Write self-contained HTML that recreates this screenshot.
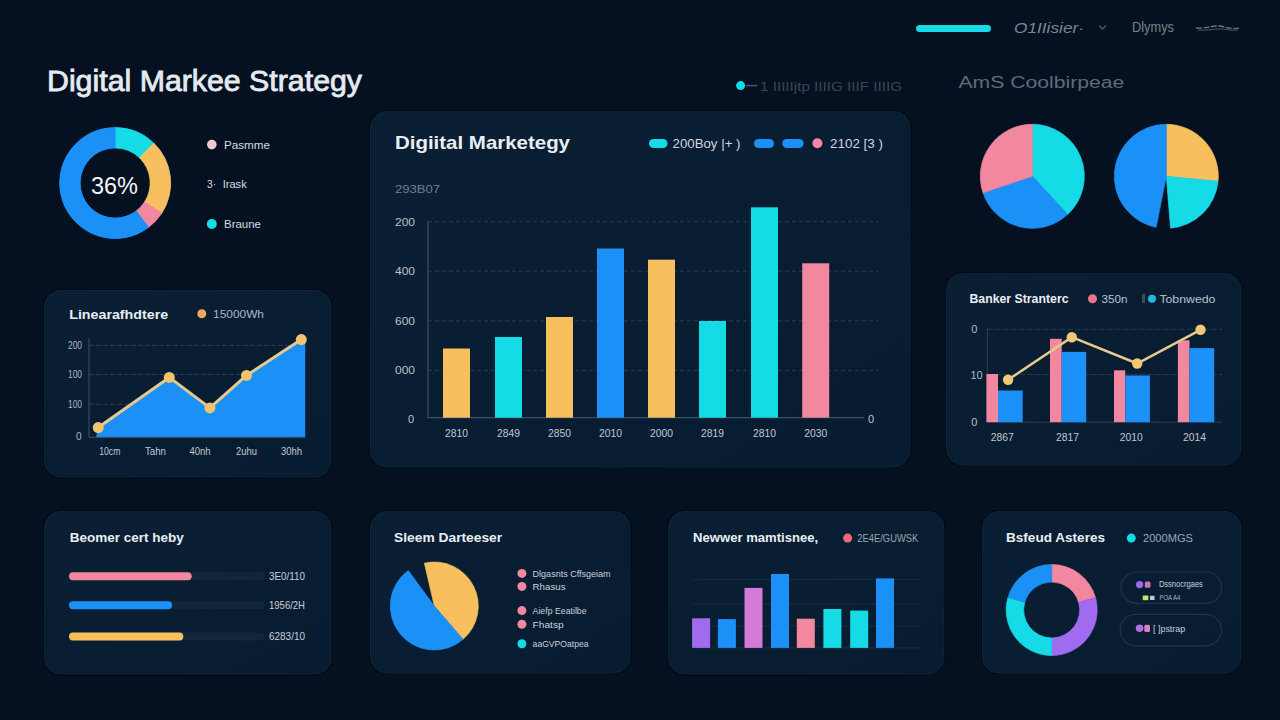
<!DOCTYPE html><html><head><meta charset="utf-8"><style>
html,body{margin:0;padding:0;background:#051120;width:1280px;height:720px;overflow:hidden}
svg{display:block;font-family:"Liberation Sans",sans-serif}
</style></head><body>
<svg width="1280" height="720" viewBox="0 0 1280 720">
<defs>
<linearGradient id="pg" x1="0" y1="0" x2="1" y2="1">
<stop offset="0" stop-color="#0a1f33"/><stop offset="1" stop-color="#081c31"/>
</linearGradient>
</defs>
<rect width="1280" height="720" fill="#051120"/>

<rect x="916" y="25" width="75" height="7" rx="3.5" fill="#14dbe5"/>
<text x="1014" y="32.5" font-size="15" font-weight="400" fill="#7a8696" text-anchor="start" textLength="70" lengthAdjust="spacingAndGlyphs" font-style="italic">O1IIisier·</text>
<path d="M1099,25.5 L1102.5,29 L1106,25.5" stroke="#596575" stroke-width="1.1" fill="none"/>
<text x="1132" y="32.2" font-size="14" font-weight="400" fill="#77838f" text-anchor="start" textLength="42" lengthAdjust="spacingAndGlyphs" >Dlymys</text>
<path d="M1196,28 C1205,29 1210,26 1218,26 C1226,26 1228,30 1240,28" stroke="#6a7686" stroke-width="1.3" fill="none" stroke-dasharray="6 1.5"/>
<path d="M1198,30 C1206,31 1212,29 1220,29 C1228,29 1230,31 1238,30" stroke="#4a5666" stroke-width="1" fill="none"/>
<text x="47" y="90.6" font-size="29" font-weight="400" fill="#e4eaf0" text-anchor="start" textLength="315" lengthAdjust="spacingAndGlyphs" stroke="#e4eaf0" stroke-width="0.8">Digital Markee Strategy</text>
<circle cx="115.2" cy="183" r="45.25" fill="none" stroke="#1b90f6" stroke-width="20.5"/>
<path d="M115.20,127.50 A55.5,55.5 0 0 1 153.75,143.08 L139.51,157.82 A35,35 0 0 0 115.20,148.00 Z" fill="#14dbe5" stroke="#14dbe5" stroke-width="0.7" stroke-linejoin="round"/>
<path d="M153.75,143.08 A55.5,55.5 0 0 1 161.75,213.23 L144.55,202.06 A35,35 0 0 0 139.51,157.82 Z" fill="#f8bf5f" stroke="#f8bf5f" stroke-width="0.7" stroke-linejoin="round"/>
<path d="M161.75,213.23 A55.5,55.5 0 0 1 148.60,227.32 L136.26,210.95 A35,35 0 0 0 144.55,202.06 Z" fill="#f2889f" stroke="#f2889f" stroke-width="0.7" stroke-linejoin="round"/>
<path d="M148.60,227.32 A55.5,55.5 0 1 1 115.20,127.50 L115.20,148.00 A35,35 0 1 0 136.26,210.95 Z" fill="#1b90f6" stroke="#1b90f6" stroke-width="0.7" stroke-linejoin="round"/>
<text x="91" y="193.5" font-size="24" font-weight="400" fill="#f2f5f8" text-anchor="start" textLength="47" lengthAdjust="spacingAndGlyphs" >36%</text>
<circle cx="211.8" cy="144.6" r="4.8" fill="#f0c8d0"/>
<text x="224" y="148.7" font-size="11" font-weight="400" fill="#d5dce4" text-anchor="start" textLength="46" lengthAdjust="spacingAndGlyphs" >Pasmme</text>
<text x="207" y="187.6" font-size="11" font-weight="400" fill="#d5dce4" text-anchor="start" textLength="9" lengthAdjust="spacingAndGlyphs" >3·</text>
<text x="222.7" y="187.6" font-size="11" font-weight="400" fill="#d5dce4" text-anchor="start" textLength="24" lengthAdjust="spacingAndGlyphs" >Irask</text>
<circle cx="211.8" cy="224" r="5" fill="#14dbe5"/>
<text x="224" y="227.7" font-size="11" font-weight="400" fill="#d5dce4" text-anchor="start" textLength="37" lengthAdjust="spacingAndGlyphs" >Braune</text>
<circle cx="740.6" cy="85.6" r="4.5" fill="#14dbe5"/>
<line x1="746" y1="85.6" x2="757" y2="85.6" stroke="#4a5566" stroke-width="1.5"/>
<text x="760" y="91" font-size="13" font-weight="400" fill="#3a4656" text-anchor="start" textLength="142" lengthAdjust="spacingAndGlyphs" >1 IIIIIjtp IIIIG IIIF IIIIG</text>
<text x="958.4" y="87.7" font-size="16" font-weight="400" fill="#5f6b7b" text-anchor="start" textLength="166" lengthAdjust="spacingAndGlyphs" >AmS Coolbirpeae</text>
<path d="M1032.30,176.30 L1032.30,124.30 A52,52 0 0 1 1067.56,214.52 Z" fill="#14dbe5" stroke="#14dbe5" stroke-width="0.7" stroke-linejoin="round"/>
<path d="M1032.30,176.30 L1067.56,214.52 A52,52 0 0 1 982.99,192.80 Z" fill="#1b90f6" stroke="#1b90f6" stroke-width="0.7" stroke-linejoin="round"/>
<path d="M1032.30,176.30 L982.99,192.80 A52,52 0 0 1 1032.30,124.30 Z" fill="#f2889f" stroke="#f2889f" stroke-width="0.7" stroke-linejoin="round"/>
<path d="M1166.30,176.30 L1166.30,124.30 A52,52 0 0 1 1218.06,181.28 Z" fill="#f8bf5f" stroke="#f8bf5f" stroke-width="0.7" stroke-linejoin="round"/>
<path d="M1166.30,176.30 L1218.06,181.28 A52,52 0 0 1 1170.56,228.13 Z" fill="#14dbe5" stroke="#14dbe5" stroke-width="0.7" stroke-linejoin="round"/>
<path d="M1166.30,176.30 L1156.11,227.29 A52,52 0 0 1 1166.30,124.30 Z" fill="#1b90f6" stroke="#1b90f6" stroke-width="0.7" stroke-linejoin="round"/>
<rect x="43.0" y="289.0" width="289.5" height="189.5" rx="17.5" fill="#030a14"/>
<rect x="44.5" y="290.5" width="286.5" height="186.5" rx="16" fill="url(#pg)" stroke="#0d2436" stroke-width="1"/>
<rect x="369.0" y="110.0" width="542.5" height="358.5" rx="17.5" fill="#030a14"/>
<rect x="370.5" y="111.5" width="539.5" height="355.5" rx="16" fill="url(#pg)" stroke="#0d2436" stroke-width="1"/>
<rect x="945.0" y="272.0" width="297.5" height="194.5" rx="17.5" fill="#030a14"/>
<rect x="946.5" y="273.5" width="294.5" height="191.5" rx="16" fill="url(#pg)" stroke="#0d2436" stroke-width="1"/>
<rect x="43.0" y="510.0" width="289.5" height="165.5" rx="17.5" fill="#030a14"/>
<rect x="44.5" y="511.5" width="286.5" height="162.5" rx="16" fill="url(#pg)" stroke="#0d2436" stroke-width="1"/>
<rect x="369.0" y="510.0" width="262.5" height="164.5" rx="17.5" fill="#030a14"/>
<rect x="370.5" y="511.5" width="259.5" height="161.5" rx="16" fill="url(#pg)" stroke="#0d2436" stroke-width="1"/>
<rect x="667.0" y="510.0" width="278.5" height="165.5" rx="17.5" fill="#030a14"/>
<rect x="668.5" y="511.5" width="275.5" height="162.5" rx="16" fill="url(#pg)" stroke="#0d2436" stroke-width="1"/>
<rect x="981.0" y="510.0" width="261.5" height="164.5" rx="17.5" fill="#030a14"/>
<rect x="982.5" y="511.5" width="258.5" height="161.5" rx="16" fill="url(#pg)" stroke="#0d2436" stroke-width="1"/>
<text x="395" y="148.7" font-size="19" font-weight="700" fill="#e9eef3" text-anchor="start" textLength="175" lengthAdjust="spacingAndGlyphs" >Digiital Marketegy</text>
<rect x="649" y="139" width="18.5" height="9" rx="4.5" fill="#14dbe5"/>
<text x="672.5" y="147.8" font-size="12" font-weight="400" fill="#cfd6de" text-anchor="start" textLength="68" lengthAdjust="spacingAndGlyphs" >200Boy |+ )</text>
<rect x="754" y="139" width="20" height="9" rx="4.5" fill="#1b90f6"/>
<rect x="782.3" y="139" width="21.3" height="9" rx="4.5" fill="#1b90f6"/>
<circle cx="817.4" cy="143.3" r="5" fill="#f2889f"/>
<text x="830" y="147.8" font-size="12" font-weight="400" fill="#cfd6de" text-anchor="start" textLength="53" lengthAdjust="spacingAndGlyphs" >2102 [3 )</text>
<text x="395" y="193" font-size="11" font-weight="400" fill="#71808f" text-anchor="start" textLength="45" lengthAdjust="spacingAndGlyphs" >293B07</text>
<line x1="428" y1="221.7" x2="878" y2="221.7" stroke="#283c50" stroke-width="1" stroke-dasharray="4 3"/>
<text x="395" y="225.7" font-size="11" font-weight="400" fill="#b8c2cc" text-anchor="start" textLength="20" lengthAdjust="spacingAndGlyphs" >200</text>
<line x1="428" y1="271.2" x2="878" y2="271.2" stroke="#283c50" stroke-width="1" stroke-dasharray="4 3"/>
<text x="395" y="275.2" font-size="11" font-weight="400" fill="#b8c2cc" text-anchor="start" textLength="20" lengthAdjust="spacingAndGlyphs" >400</text>
<line x1="428" y1="320.8" x2="878" y2="320.8" stroke="#283c50" stroke-width="1" stroke-dasharray="4 3"/>
<text x="395" y="324.8" font-size="11" font-weight="400" fill="#b8c2cc" text-anchor="start" textLength="20" lengthAdjust="spacingAndGlyphs" >600</text>
<line x1="428" y1="370.4" x2="878" y2="370.4" stroke="#283c50" stroke-width="1" stroke-dasharray="4 3"/>
<text x="395" y="374.4" font-size="11" font-weight="400" fill="#b8c2cc" text-anchor="start" textLength="20" lengthAdjust="spacingAndGlyphs" >000</text>
<line x1="428" y1="221" x2="428" y2="418" stroke="#3e5064" stroke-width="1.2"/>
<line x1="428" y1="417.7" x2="864" y2="417.7" stroke="#3e5064" stroke-width="1.2"/>
<text x="408" y="423" font-size="11" font-weight="400" fill="#b8c2cc" text-anchor="start" >0</text>
<text x="868" y="423" font-size="11" font-weight="400" fill="#b8c2cc" text-anchor="start" >0</text>
<rect x="443" y="348.5" width="27" height="69.19999999999999" fill="#f8bf5f"/>
<text x="456.5" y="436.5" font-size="10.5" font-weight="400" fill="#c0c9d2" text-anchor="middle" textLength="23" lengthAdjust="spacingAndGlyphs" >2810</text>
<rect x="495" y="337" width="27" height="80.69999999999999" fill="#14dbe5"/>
<text x="508.5" y="436.5" font-size="10.5" font-weight="400" fill="#c0c9d2" text-anchor="middle" textLength="23" lengthAdjust="spacingAndGlyphs" >2849</text>
<rect x="546" y="317" width="27" height="100.69999999999999" fill="#f8bf5f"/>
<text x="559.5" y="436.5" font-size="10.5" font-weight="400" fill="#c0c9d2" text-anchor="middle" textLength="23" lengthAdjust="spacingAndGlyphs" >2850</text>
<rect x="597" y="248.5" width="27" height="169.2" fill="#1b90f6"/>
<text x="610.5" y="436.5" font-size="10.5" font-weight="400" fill="#c0c9d2" text-anchor="middle" textLength="23" lengthAdjust="spacingAndGlyphs" >2010</text>
<rect x="648" y="259.7" width="27" height="158.0" fill="#f8bf5f"/>
<text x="661.5" y="436.5" font-size="10.5" font-weight="400" fill="#c0c9d2" text-anchor="middle" textLength="23" lengthAdjust="spacingAndGlyphs" >2000</text>
<rect x="699" y="321" width="27" height="96.69999999999999" fill="#14dbe5"/>
<text x="712.5" y="436.5" font-size="10.5" font-weight="400" fill="#c0c9d2" text-anchor="middle" textLength="23" lengthAdjust="spacingAndGlyphs" >2819</text>
<rect x="751" y="207.3" width="27" height="210.39999999999998" fill="#14dbe5"/>
<text x="764.5" y="436.5" font-size="10.5" font-weight="400" fill="#c0c9d2" text-anchor="middle" textLength="23" lengthAdjust="spacingAndGlyphs" >2810</text>
<rect x="802.2" y="263.3" width="27" height="154.39999999999998" fill="#f2889f"/>
<text x="815.7" y="436.5" font-size="10.5" font-weight="400" fill="#c0c9d2" text-anchor="middle" textLength="23" lengthAdjust="spacingAndGlyphs" >2030</text>
<text x="69.2" y="318.8" font-size="12.5" font-weight="700" fill="#e9eef3" text-anchor="start" textLength="99" lengthAdjust="spacingAndGlyphs" >Linearafhdtere</text>
<circle cx="201.8" cy="313.7" r="4.5" fill="#f0a860"/>
<text x="213" y="317.6" font-size="11" font-weight="400" fill="#a8b8c8" text-anchor="start" textLength="51" lengthAdjust="spacingAndGlyphs" >15000Wh</text>
<line x1="89" y1="345.3" x2="305" y2="345.3" stroke="#2c3f52" stroke-width="1" stroke-dasharray="5 2"/>
<text x="68" y="348.8" font-size="10" font-weight="400" fill="#b0bac4" text-anchor="start" textLength="14" lengthAdjust="spacingAndGlyphs" >200</text>
<line x1="89" y1="374.4" x2="305" y2="374.4" stroke="#2c3f52" stroke-width="1" stroke-dasharray="5 2"/>
<text x="68" y="377.9" font-size="10" font-weight="400" fill="#b0bac4" text-anchor="start" textLength="14" lengthAdjust="spacingAndGlyphs" >100</text>
<line x1="89" y1="404.2" x2="305" y2="404.2" stroke="#2c3f52" stroke-width="1" stroke-dasharray="5 2"/>
<text x="68" y="407.7" font-size="10" font-weight="400" fill="#b0bac4" text-anchor="start" textLength="14" lengthAdjust="spacingAndGlyphs" >100</text>
<text x="76" y="439.5" font-size="10" font-weight="400" fill="#b0bac4" text-anchor="start" >0</text>
<line x1="89" y1="338" x2="89" y2="437.3" stroke="#3e5063" stroke-width="1"/>
<polygon points="96,437.3 98.2,427.6 169.3,377.4 209.9,407.9 246.5,375.4 301.3,339.6 305.2,344.3 305.2,437.3" fill="#1b90f6"/>
<line x1="89" y1="437.3" x2="305" y2="437.3" stroke="#3e5063" stroke-width="1"/>
<polyline points="98.2,427.6 169.3,377.4 209.9,407.9 246.5,375.4 301.3,339.6" fill="none" stroke="#e6c98c" stroke-width="3" stroke-linejoin="round"/>
<circle cx="98.2" cy="427.6" r="5.5" fill="#f2c46e"/>
<circle cx="169.3" cy="377.4" r="5.5" fill="#f2c46e"/>
<circle cx="209.9" cy="407.9" r="5.5" fill="#f2c46e"/>
<circle cx="246.5" cy="375.4" r="5.5" fill="#f2c46e"/>
<circle cx="301.3" cy="339.6" r="5.5" fill="#f2c46e"/>
<text x="109.8" y="455" font-size="10" font-weight="400" fill="#c0c8d0" text-anchor="middle" textLength="21" lengthAdjust="spacingAndGlyphs" >10cm</text>
<text x="155.5" y="455" font-size="10" font-weight="400" fill="#c0c8d0" text-anchor="middle" textLength="21" lengthAdjust="spacingAndGlyphs" >Tahn</text>
<text x="200" y="455" font-size="10" font-weight="400" fill="#c0c8d0" text-anchor="middle" textLength="21" lengthAdjust="spacingAndGlyphs" >40nh</text>
<text x="246.5" y="455" font-size="10" font-weight="400" fill="#c0c8d0" text-anchor="middle" textLength="21" lengthAdjust="spacingAndGlyphs" >2uhu</text>
<text x="291.6" y="455" font-size="10" font-weight="400" fill="#c0c8d0" text-anchor="middle" textLength="21" lengthAdjust="spacingAndGlyphs" >30hh</text>
<text x="969.5" y="302.9" font-size="12" font-weight="700" fill="#e9eef3" text-anchor="start" textLength="99" lengthAdjust="spacingAndGlyphs" >Banker Stranterc</text>
<circle cx="1092.5" cy="298.7" r="4.5" fill="#ee7488"/>
<text x="1101.4" y="302.9" font-size="11" font-weight="400" fill="#b8c4d0" text-anchor="start" textLength="26" lengthAdjust="spacingAndGlyphs" >350n</text>
<rect x="1142" y="294" width="3" height="9" fill="#3a4a5a"/>
<circle cx="1152" cy="298.7" r="4" fill="#22b8e0"/>
<text x="1159.4" y="302.9" font-size="11" font-weight="400" fill="#b8c4d0" text-anchor="start" textLength="56" lengthAdjust="spacingAndGlyphs" >Tobnwedo</text>
<line x1="987" y1="329.3" x2="1222" y2="329.3" stroke="#243749" stroke-width="1" stroke-dasharray="6 2"/>
<line x1="987" y1="374.5" x2="1222" y2="374.5" stroke="#243749" stroke-width="1" stroke-dasharray="6 2"/>
<line x1="987.4" y1="328" x2="987.4" y2="422" stroke="#2c3f52" stroke-width="1"/>
<line x1="987" y1="422.2" x2="1222" y2="422.2" stroke="#2c3f52" stroke-width="1"/>
<text x="974.3" y="332.7" font-size="11" font-weight="400" fill="#b0bcc8" text-anchor="middle" >0</text>
<text x="976.5" y="379.1" font-size="11" font-weight="400" fill="#b0bcc8" text-anchor="middle" >10</text>
<text x="974.3" y="425.5" font-size="11" font-weight="400" fill="#b0bcc8" text-anchor="middle" >0</text>
<rect x="986.4" y="374" width="11.600000000000023" height="48.19999999999999" fill="#f2889f"/>
<rect x="998" y="390.5" width="24.700000000000045" height="31.69999999999999" fill="#1b90f6"/>
<rect x="1050" y="338.8" width="11.700000000000045" height="83.39999999999998" fill="#f2889f"/>
<rect x="1061.7" y="351.9" width="24.5" height="70.30000000000001" fill="#1b90f6"/>
<rect x="1114" y="370.3" width="11.200000000000045" height="51.89999999999998" fill="#f2889f"/>
<rect x="1125.2" y="375.5" width="24.700000000000045" height="46.69999999999999" fill="#1b90f6"/>
<rect x="1177.9" y="340.3" width="11.599999999999909" height="81.89999999999998" fill="#f2889f"/>
<rect x="1189.5" y="348.1" width="24.700000000000045" height="74.09999999999997" fill="#1b90f6"/>
<polyline points="1008.1,379.8 1071.8,337.2 1137.2,363.5 1200.5,329.8" fill="none" stroke="#e6c98c" stroke-width="2.5"/>
<circle cx="1008.1" cy="379.8" r="5.2" fill="#f2c878"/>
<circle cx="1071.8" cy="337.2" r="5.2" fill="#f2c878"/>
<circle cx="1137.2" cy="363.5" r="5.2" fill="#f2c878"/>
<circle cx="1200.5" cy="329.8" r="5.2" fill="#f2c878"/>
<text x="1002.2" y="441.2" font-size="11" font-weight="400" fill="#c0c8d0" text-anchor="middle" textLength="23" lengthAdjust="spacingAndGlyphs" >2867</text>
<text x="1067.6" y="441.2" font-size="11" font-weight="400" fill="#c0c8d0" text-anchor="middle" textLength="23" lengthAdjust="spacingAndGlyphs" >2817</text>
<text x="1131.3" y="441.2" font-size="11" font-weight="400" fill="#c0c8d0" text-anchor="middle" textLength="23" lengthAdjust="spacingAndGlyphs" >2010</text>
<text x="1194.6" y="441.2" font-size="11" font-weight="400" fill="#c0c8d0" text-anchor="middle" textLength="23" lengthAdjust="spacingAndGlyphs" >2014</text>
<text x="69.8" y="542.2" font-size="13" font-weight="700" fill="#e9eef3" text-anchor="start" textLength="114" lengthAdjust="spacingAndGlyphs" >Beomer cert heby</text>
<rect x="69" y="572.3" width="196" height="8" rx="4" fill="#12263a"/>
<rect x="69" y="572.3" width="122.69999999999999" height="8" rx="4" fill="#f2889f"/>
<text x="269" y="579.9" font-size="11" font-weight="400" fill="#c8d0d8" text-anchor="start" textLength="36" lengthAdjust="spacingAndGlyphs" >3E0/110</text>
<rect x="69" y="601.2" width="196" height="8" rx="4" fill="#12263a"/>
<rect x="69" y="601.2" width="103.1" height="8" rx="4" fill="#1b90f6"/>
<text x="269" y="608.8000000000001" font-size="11" font-weight="400" fill="#c8d0d8" text-anchor="start" textLength="36" lengthAdjust="spacingAndGlyphs" >1956/2H</text>
<rect x="69" y="632.4" width="196" height="8" rx="4" fill="#12263a"/>
<rect x="69" y="632.4" width="114.30000000000001" height="8" rx="4" fill="#f8bf5f"/>
<text x="269" y="640.0" font-size="11" font-weight="400" fill="#c8d0d8" text-anchor="start" textLength="36" lengthAdjust="spacingAndGlyphs" >6283/10</text>
<text x="394.1" y="541.7" font-size="13" font-weight="700" fill="#e9eef3" text-anchor="start" textLength="108" lengthAdjust="spacingAndGlyphs" >Sleem Darteeser</text>
<path d="M434.30,606.00 L424.40,563.13 A44,44 0 0 1 462.99,639.36 Z" fill="#f8bf5f" stroke="#f8bf5f" stroke-width="0.7" stroke-linejoin="round"/>
<path d="M434.30,606.00 L462.99,639.36 A44,44 0 1 1 408.25,570.54 Z" fill="#1b90f6" stroke="#1b90f6" stroke-width="0.7" stroke-linejoin="round"/>
<circle cx="521.9" cy="573.4" r="4.5" fill="#f2889f"/>
<text x="532.6" y="576.6999999999999" font-size="9.5" font-weight="400" fill="#c8d0d8" text-anchor="start" textLength="78" lengthAdjust="spacingAndGlyphs" >Dlgasnts Cffsgeiam</text>
<circle cx="521.9" cy="586.4" r="4.5" fill="#f2889f"/>
<text x="532.6" y="589.6999999999999" font-size="9.5" font-weight="400" fill="#c8d0d8" text-anchor="start" textLength="33" lengthAdjust="spacingAndGlyphs" >Rhasus</text>
<circle cx="521.9" cy="610.6" r="4.5" fill="#f2889f"/>
<text x="532.6" y="613.9" font-size="9.5" font-weight="400" fill="#c8d0d8" text-anchor="start" textLength="54" lengthAdjust="spacingAndGlyphs" >Aiefp Eeatilbe</text>
<circle cx="521.9" cy="624.3" r="4.5" fill="#f2889f"/>
<text x="532.6" y="627.5999999999999" font-size="9.5" font-weight="400" fill="#c8d0d8" text-anchor="start" textLength="31" lengthAdjust="spacingAndGlyphs" >Fhatsp</text>
<circle cx="521.9" cy="643.8" r="4.5" fill="#14dbe5"/>
<text x="532.6" y="647.0999999999999" font-size="9.5" font-weight="400" fill="#c8d0d8" text-anchor="start" textLength="56" lengthAdjust="spacingAndGlyphs" >aaGVPOatpea</text>
<text x="693.1" y="541.8" font-size="13" font-weight="700" fill="#e9eef3" text-anchor="start" textLength="125" lengthAdjust="spacingAndGlyphs" >Newwer mamtisnee,</text>
<circle cx="847.6" cy="538.1" r="4.5" fill="#ef6a78"/>
<text x="857.3" y="542" font-size="11" font-weight="400" fill="#9aa6b2" text-anchor="start" textLength="61" lengthAdjust="spacingAndGlyphs" >2E4E/GUWSK</text>
<line x1="692" y1="579.4" x2="920" y2="579.4" stroke="#192d40" stroke-width="1"/>
<line x1="692" y1="604.2" x2="920" y2="604.2" stroke="#192d40" stroke-width="1"/>
<line x1="692" y1="626.2" x2="920" y2="626.2" stroke="#192d40" stroke-width="1"/>
<line x1="692" y1="647.9" x2="920" y2="647.9" stroke="#192d40" stroke-width="1"/>
<rect x="692.1" y="618.3" width="18" height="29.600000000000023" fill="#a06bef"/>
<rect x="717.9" y="619.1" width="18" height="28.799999999999955" fill="#1b90f6"/>
<rect x="744.5" y="587.9" width="18" height="60.0" fill="#d67ad8"/>
<rect x="771" y="574" width="18" height="73.89999999999998" fill="#1b90f6"/>
<rect x="796.8" y="618.7" width="18" height="29.199999999999932" fill="#f2889f"/>
<rect x="823.4" y="609" width="18" height="38.89999999999998" fill="#14dbe5"/>
<rect x="850.2" y="610.6" width="18" height="37.299999999999955" fill="#14dbe5"/>
<rect x="876" y="578.4" width="18" height="69.5" fill="#1b90f6"/>
<text x="1006" y="541.7" font-size="13" font-weight="700" fill="#e9eef3" text-anchor="start" textLength="99" lengthAdjust="spacingAndGlyphs" >Bsfeud Asteres</text>
<circle cx="1131.3" cy="538.1" r="4.5" fill="#14dbe5"/>
<text x="1143" y="542" font-size="11" font-weight="400" fill="#9aa6b2" text-anchor="start" textLength="50" lengthAdjust="spacingAndGlyphs" >2000MGS</text>
<path d="M1051.70,564.50 A45.5,45.5 0 0 1 1095.44,597.46 L1078.62,602.28 A28,28 0 0 0 1051.70,582.00 Z" fill="#f2889f" stroke="#f2889f" stroke-width="0.7" stroke-linejoin="round"/>
<path d="M1095.44,597.46 A45.5,45.5 0 0 1 1051.70,655.50 L1051.70,638.00 A28,28 0 0 0 1078.62,602.28 Z" fill="#a06bef" stroke="#a06bef" stroke-width="0.7" stroke-linejoin="round"/>
<path d="M1051.70,655.50 A45.5,45.5 0 0 1 1007.96,597.46 L1024.78,602.28 A28,28 0 0 0 1051.70,638.00 Z" fill="#14dbe5" stroke="#14dbe5" stroke-width="0.7" stroke-linejoin="round"/>
<path d="M1007.96,597.46 A45.5,45.5 0 0 1 1051.70,564.50 L1051.70,582.00 A28,28 0 0 0 1024.78,602.28 Z" fill="#1b90f6" stroke="#1b90f6" stroke-width="0.7" stroke-linejoin="round"/>
<rect x="1121" y="572" width="100.5" height="31.3" rx="15.6" fill="none" stroke="#1f3447" stroke-width="1.2"/>
<rect x="1120.2" y="614.3" width="101.3" height="31.5" rx="15.7" fill="none" stroke="#1f3447" stroke-width="1.2"/>
<circle cx="1139.6" cy="584.6" r="3.6" fill="#9a6ae8"/>
<rect x="1144.8" y="581.5" width="5.7" height="6.2" rx="1.5" fill="#c874b8"/>
<text x="1158.9" y="587.4" font-size="9" font-weight="400" fill="#c8d0d8" text-anchor="start" textLength="44" lengthAdjust="spacingAndGlyphs" >Dssnocrgaes</text>
<rect x="1142.7" y="595.5" width="5.7" height="4.7" rx="1" fill="#c8e070"/>
<rect x="1150" y="595.8" width="4.5" height="4.2" fill="#c8ccc0"/>
<text x="1159.4" y="600.3" font-size="6.5" font-weight="400" fill="#a8b2bc" text-anchor="start" textLength="21" lengthAdjust="spacingAndGlyphs" >POA A4</text>
<circle cx="1139.6" cy="628.3" r="3.8" fill="#b070e0"/>
<rect x="1144.3" y="624.7" width="5.7" height="7.3" rx="1.5" fill="#d482c8"/>
<text x="1153.1" y="632" font-size="9.5" font-weight="400" fill="#c8d0d8" text-anchor="start" textLength="32" lengthAdjust="spacingAndGlyphs" >[ ]pstrap</text>
</svg></body></html>
